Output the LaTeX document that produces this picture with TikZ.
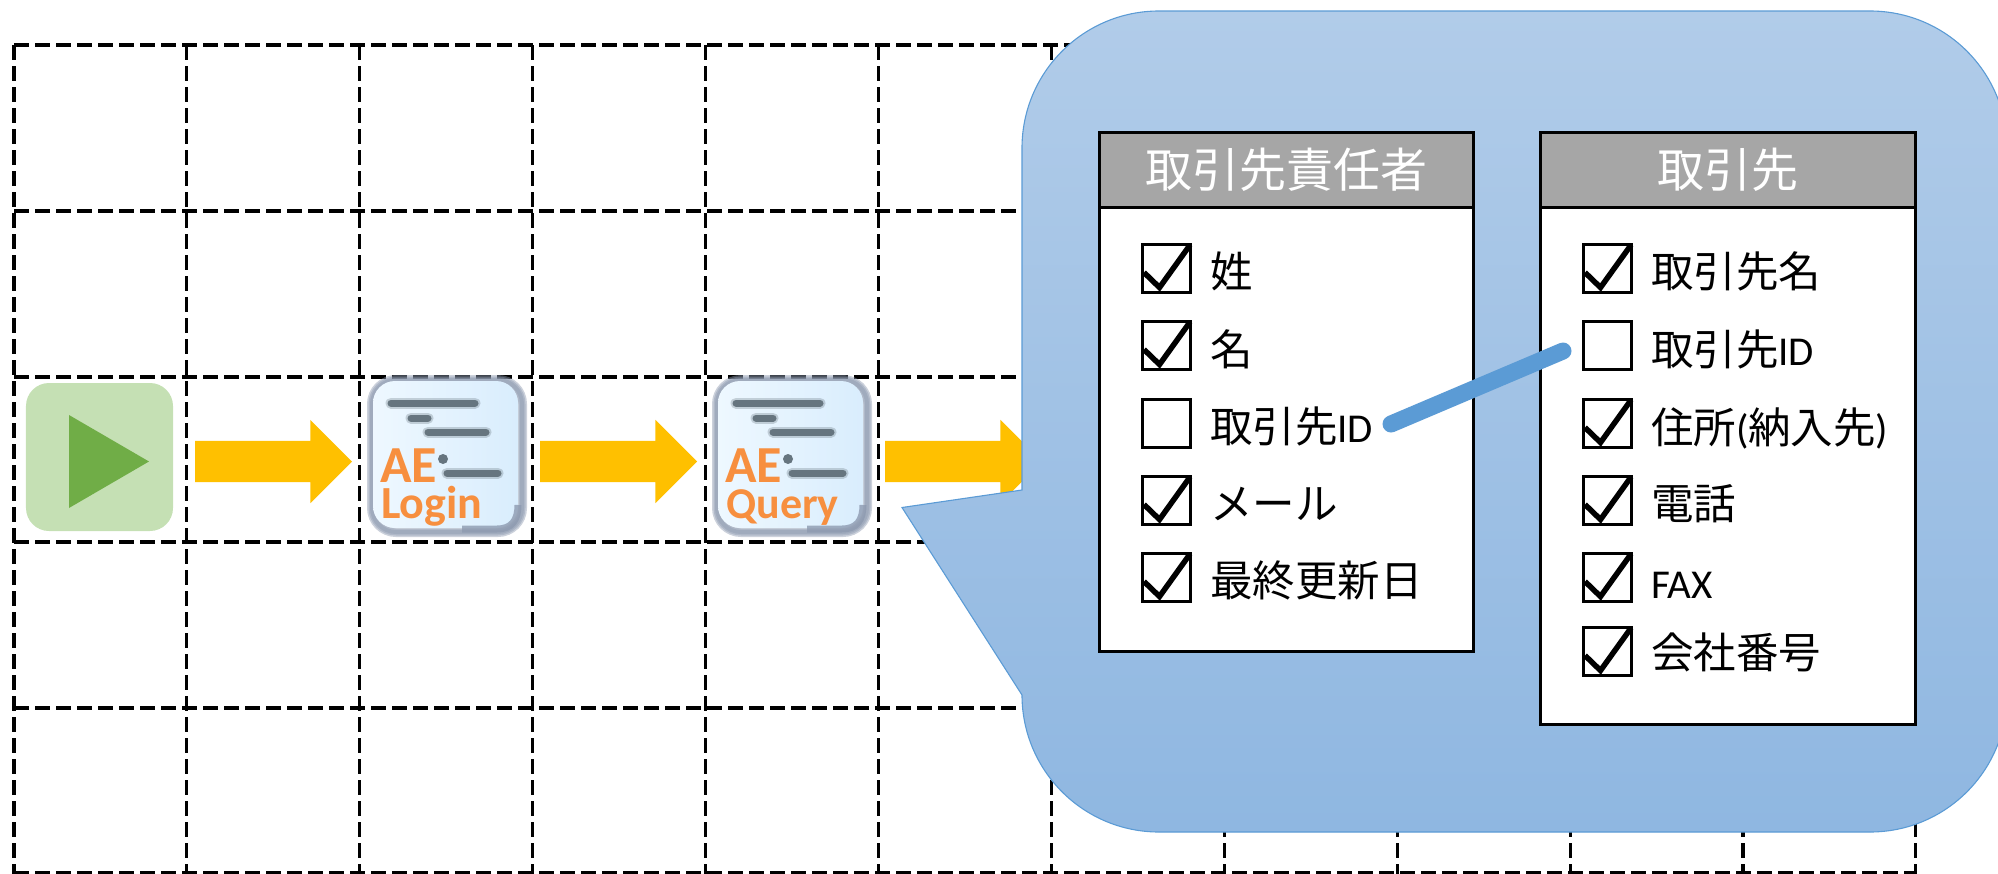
\documentclass[tikz,border=0pt]{standalone}
\usepackage{fontspec}
\setmainfont{Carlito}
\newfontfamily\cjk{Noto Sans CJK JP}
\usetikzlibrary{shapes.arrows}
\definecolor{gold}{HTML}{FFC000}
\definecolor{calloutedge}{HTML}{5B9BD5}
\definecolor{headgray}{HTML}{A6A6A6}
\definecolor{startbg}{HTML}{C5E0B4}
\definecolor{startfg}{HTML}{70AD47}
\definecolor{iconedge}{HTML}{8D9AB0}
\definecolor{iconbar}{HTML}{66757F}
\definecolor{iconorange}{HTML}{F78F3F}
\definecolor{iconlight}{HTML}{EEF8FF}
\definecolor{iconfill}{HTML}{D9EDFD}
\definecolor{bubbletop}{HTML}{B1CCE9}
\definecolor{bubblemid}{HTML}{A0BEE6}
\definecolor{bubblelow}{HTML}{8FB7E1}
\newcommand{\jp}[1]{{\cjk\fontsize{42.5bp}{42.5bp}\selectfont #1}}
\newcommand{\lt}[1]{{\fontsize{41bp}{41bp}\selectfont #1}}
\tikzset{
  x=1bp,y=-1bp,
  gridline/.style={draw=black,line width=3.1bp,dash pattern=on 14.5bp off 6.5bp},
  blockarrow/.style={shape=single arrow,fill=gold,draw=none,inner ysep=20.5bp,inner xsep=0pt,outer sep=0pt,anchor=tip,
    minimum height=157bp,single arrow head extend=21bp,single arrow head indent=0pt,single arrow tip angle=90},
  tablebox/.style={draw=black,line width=3.2bp,fill=white},
  tablehead/.style={draw=black,line width=3.2bp,fill=headgray},
  headtext/.style={text=white,inner sep=0pt,font=\cjk\fontsize{47bp}{47bp}\selectfont},
  tick box/.style={draw=black,line width=3.4bp,fill=white,minimum size=48bp,inner sep=0pt,outer sep=0pt},
  tick mark/.style={draw=black,line width=5.5bp,miter limit=10},
  item/.style={anchor=base west,inner sep=0pt,outer sep=0pt},
  iconinner/.style={rounded corners=22bp,left color=iconlight,right color=iconfill,draw=none},
  iconstroke/.style={draw=iconbar,line width=7bp,line cap=round},
  iconhalo/.style={draw=iconbar,opacity=.3,line width=11bp,line cap=round},
  icontext/.style={text=iconorange,inner sep=0pt,anchor=base west}
}
% \softbar{x0}{x1}{y}
\newcommand{\softbar}[3]{%
  \draw[iconhalo] (#1,#3) -- (#2,#3);
  \draw[iconstroke] (#1,#3) -- (#2,#3);
}
% \iconbox{name}{left}{second line}{font px}
\newcommand{\iconbox}[4]{%
  \foreach \w in {10,7,4}
    \draw[iconedge,opacity=.45,line width=\w bp,rounded corners=24bp] (#2+5,380) rectangle (#2+155,532);
  \path[iconinner] (#2+6,381) rectangle (#2+151,528);
  \draw[iconedge,opacity=.8,line width=7bp] (#2+95,529) -- (#2+130,529) .. controls (#2+145,529) and (#2+151,520) .. (#2+151,505);
  \softbar{#2+24}{#2+108}{403}
  \softbar{#2+44}{#2+61}{418}
  \softbar{#2+61}{#2+119}{432}
  \fill[iconbar] (#2+76,459) circle (5bp);
  \softbar{#2+80}{#2+131}{473}
  \node[icontext,font=\bfseries\fontsize{52bp}{52bp}\selectfont] (#1ae) at (#2+13,482) {AE};
  \node[icontext,font=\bfseries\fontsize{#4bp}{#4bp}\selectfont] (#1lab) at (#2+14,518) {#3};
}
% \tickitem{name}{left}{top}
\newcommand{\tickitem}[3]{%
  \node[tick box,anchor=north west] (#1) at (#2,#3) {};
  \draw[tick mark] (#2+1.5,#3+28) -- (#2+17,#3+43) -- (#2+47.5,#3+0.5);
}
\newcommand{\plainitem}[3]{%
  \node[tick box,anchor=north west] (#1) at (#2,#3) {};
}
\newcommand{\bubblepath}{(1022,490) -- (1022,148) .. controls (1022,72.3) and (1083.3,11) .. (1159,11) -- (1870,11) .. controls (1945.7,11) and (2007,72.3) .. (2007,148) -- (2007,695) .. controls (2007,770.7) and (1945.7,832) .. (1870,832) -- (1159,832) .. controls (1083.3,832) and (1022,770.7) .. (1022,695) -- (902,507.5) -- cycle}
\begin{document}
\begin{tikzpicture}
\useasboundingbox (0,0) rectangle (1998,874);
\clip (0,0) rectangle (1998,874);
% grid
\foreach \gx in {14,186.9,359.8,532.7,705.6,878.5,1051.4,1224.3,1397.2,1570.1,1743,1915.9}
  \draw[gridline] (\gx,45) -- (\gx,874);
\foreach \gy in {45,211,377,542,708,873}
  \draw[gridline] (14,\gy) -- (1916,\gy);
% start button
\node[fill=startbg,rounded corners=23bp,minimum width=147bp,minimum height=148bp,inner sep=0pt] (start) at (99.5,457) {};
\fill[startfg] (69,415) -- (149,461.5) -- (69,508) -- cycle;
% icons
\iconbox{login}{367}{Login}{46}
\iconbox{query}{712}{Query}{44}
% arrows
\node[blockarrow] (arrA) at (352,461.5) {};
\node[blockarrow] (arrB) at (697,461.5) {};
\node[blockarrow] (arrC) at (1042,461.5) {};
% callout
\shade[top color=bubbletop,middle color=bubblemid,bottom color=bubblelow] \bubblepath;
\draw[calloutedge,line width=1.1bp] \bubblepath;
% left table
\node[tablebox,minimum width=374bp,minimum height=519bp,inner sep=0pt,anchor=north west] (tblL) at (1098,131) {};
\node[tablehead,minimum width=374bp,minimum height=75bp,inner sep=0pt,anchor=north west] (hdL) at (1098,131) {};
\node[headtext] (hdLt) at (hdL.center) {取引先責任者};
\tickitem{lA}{1142.5}{244.5}
\tickitem{lB}{1142.5}{321.5}
\plainitem{lC}{1142.5}{399.5}
\tickitem{lD}{1142.5}{476.5}
\tickitem{lE}{1142.5}{553.5}
\node[item] (tlA) at (1210,287) {\jp{姓}};
\node[item] (tlB) at (1210,365) {\jp{名}};
\node[item] (tlC) at (1210,442) {\jp{取引先}\lt{ID}};
\node[item] (tlD) at (1210,519) {\jp{メール}};
\node[item] (tlE) at (1210,596) {\jp{最終更新日}};
% right table
\node[tablebox,minimum width=375bp,minimum height=592bp,inner sep=0pt,anchor=north west] (tblR) at (1539,131) {};
\node[tablehead,minimum width=375bp,minimum height=75bp,inner sep=0pt,anchor=north west] (hdR) at (1539,131) {};
\node[headtext] (hdRt) at (hdR.center) {取引先};
\tickitem{rA}{1583.5}{244.5}
\plainitem{rB}{1583.5}{321.5}
\tickitem{rC}{1583.5}{399.5}
\tickitem{rD}{1583.5}{476.5}
\tickitem{rE}{1583.5}{553.5}
\tickitem{rF}{1583.5}{627.5}
\node[item] (trA) at (1651,287) {\jp{取引先名}};
\node[item] (trB) at (1651,365) {\jp{取引先}\lt{ID}};
\node[item] (trC) at (1651,443) {\jp{住所}\lt{(}\jp{納入先}\lt{)}};
\node[item] (trD) at (1651,519) {\jp{電話}};
\node[item] (trE) at (1651,598) {\lt{FAX}};
\node[item] (trF) at (1651,668) {\jp{会社番号}};
% blue link
\coordinate (linkA) at (1391,424);
\coordinate (linkB) at (1563,351);
\draw[calloutedge,line width=17bp,line cap=round] (linkA) -- (linkB);
\end{tikzpicture}
\end{document}
